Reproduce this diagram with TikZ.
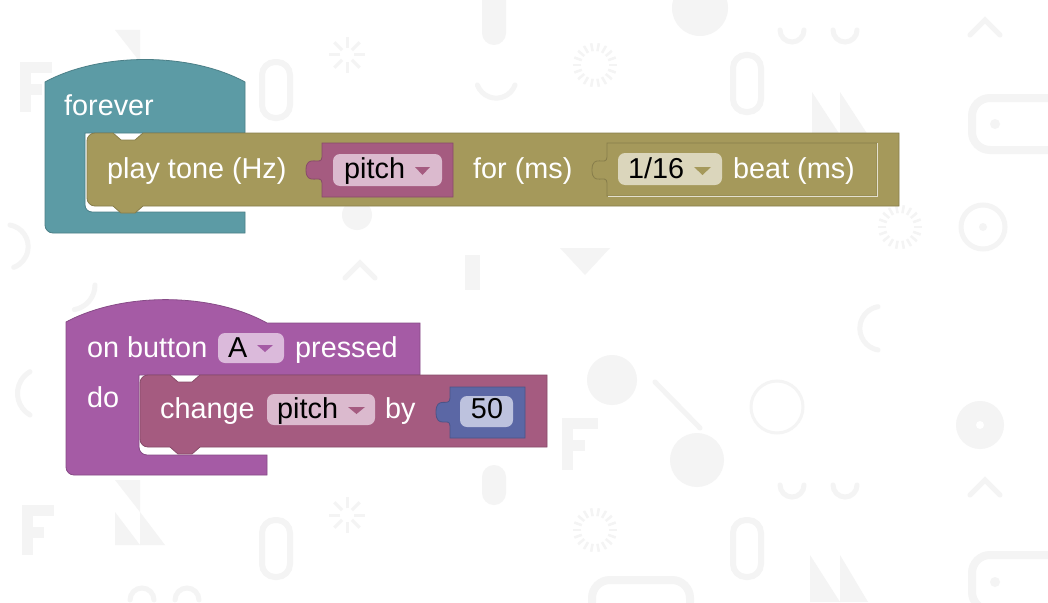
\documentclass[tikz,border=0pt]{standalone}
\usepackage{fontspec}
\setmainfont{Liberation Sans}
\definecolor{tealB}{HTML}{5C9BA5}
\definecolor{oliveB}{HTML}{A5995B}
\definecolor{purpB}{HTML}{A55BA5}
\definecolor{varB}{HTML}{A55B80}
\definecolor{mathB}{HTML}{5B67A5}
\definecolor{varF}{HTML}{DBBACE}
\definecolor{purpF}{HTML}{DBBADB}
\definecolor{oliveF}{HTML}{DBD6BC}
\definecolor{mathF}{HTML}{BDC2DE}
\definecolor{deco}{HTML}{F4F4F4}
\begin{document}
\begin{tikzpicture}[x=1pt,y=-1pt,
 wt/.style={text=white, font=\fontsize{28.8}{30}\selectfont, anchor=base west, inner sep=0pt},
 bt/.style={text=black, font=\fontsize{28.8}{30}\selectfont, anchor=base west, inner sep=0pt},
 dec/.style={fill=deco},
 decl/.style={draw=deco, line width=5pt, line cap=round},
 blk/.style={fill=#1, draw=#1!82!black, line width=0.8pt},
]
\useasboundingbox (0,0) rectangle (1048,602);
\fill[white] (0,0) rectangle (1048,602);

% ---------- faint background decorations ----------
\fill[dec, rounded corners=12] (482,-15) rectangle (506,45);
\fill[dec] (700,8) circle[radius=28];
\draw[decl] (970,35) -- (985,20) -- (1000,35);
\draw[decl] (345,278) -- (360,263) -- (375,278);
\draw[decl] (970,495) -- (985,480) -- (1000,495);
\fill[dec] (115,30) -- (140,30) -- (140,62) -- cycle;
\fill[dec] (140,62) -- (165,95) -- (140,95) -- cycle;
\fill[dec] (115,62) -- (140,95) -- (115,95) -- cycle;
\fill[dec] (115,480) -- (140,480) -- (140,512) -- cycle;
\fill[dec] (140,512) -- (165,545) -- (140,545) -- cycle;
\fill[dec] (115,512) -- (140,545) -- (115,545) -- cycle;
\fill[dec] (560,248) -- (610,248) -- (585,275) -- cycle;
\fill[dec] (810,555) -- (840,602) -- (810,602) -- cycle;
\fill[dec] (840,555) -- (868,602) -- (840,602) -- cycle;
\fill[dec] (812,92) -- (840,135) -- (812,135) -- cycle;
\fill[dec] (840,92) -- (868,135) -- (840,135) -- cycle;
\fill[dec] (20,62) rectangle (31,112);
\fill[dec] (20,62) rectangle (52,73);
\fill[dec] (20,84) rectangle (42,95);
\fill[dec] (22,505) rectangle (33,555);
\fill[dec] (22,505) rectangle (54,516);
\fill[dec] (22,527) rectangle (44,538);
\fill[dec] (562,418) rectangle (573,470);
\fill[dec] (562,418) rectangle (598,429);
\fill[dec] (562,440) rectangle (585,451);
\foreach \a in {0,45,...,315}{
  \draw[draw=deco, line width=3pt] (347,55) ++(\a:7) -- ++(\a:11);
  \draw[draw=deco, line width=3pt] (347,515) ++(\a:7) -- ++(\a:11);
}
\foreach \a in {0,20,...,340}{
  \draw[draw=deco, line width=2.5pt] (595,65) ++(\a:14) -- ++(\a:8);
  \draw[draw=deco, line width=2.5pt] (595,530) ++(\a:14) -- ++(\a:8);
  \draw[draw=deco, line width=2.5pt] (900,227) ++(\a:14) -- ++(\a:8);
}
\draw[decl] (780,30) arc[start angle=180,end angle=0,radius=12];
\draw[decl] (833,30) arc[start angle=180,end angle=0,radius=12];
\draw[decl] (780,485) arc[start angle=180,end angle=0,radius=12];
\draw[decl] (833,485) arc[start angle=180,end angle=0,radius=12];
\draw[decl] (130,600) arc[start angle=180,end angle=360,radius=12];
\draw[decl] (175,600) arc[start angle=180,end angle=360,radius=12];
\draw[draw=deco, line width=6pt, rounded corners=13] (262,62) rectangle (290,118);
\draw[draw=deco, line width=6pt, rounded corners=13] (733,55) rectangle (761,112);
\draw[draw=deco, line width=6pt, rounded corners=13] (262,520) rectangle (290,577);
\draw[draw=deco, line width=6pt, rounded corners=13] (733,520) rectangle (761,577);
\draw[draw=deco, line width=8pt, rounded corners=18] (972,98) rectangle (1070,150);
\fill[dec] (995,124) circle[radius=5];
\draw[draw=deco, line width=8pt, rounded corners=18] (972,555) rectangle (1070,610);
\fill[dec] (995,582) circle[radius=5];
\draw[draw=deco, line width=8pt, rounded corners=18] (592,580) rectangle (690,625);
\draw[draw=deco, line width=5pt] (983,227) circle[radius=22];
\fill[dec] (983,227) circle[radius=4];
\fill[dec] (612,380) circle[radius=25];
\draw[decl] (655,382) -- (700,428);
\draw[draw=deco, line width=3pt] (777,407) circle[radius=26];
\fill[dec] (697,460) circle[radius=27];
\fill[dec] (980,425) circle[radius=24];
\fill[white] (980,425) circle[radius=4];
\fill[dec, rounded corners=12] (482,465) rectangle (506,505);
\draw[decl] (878,350) arc[start angle=-80,end angle=80,radius=-22];
\draw[decl] (515,85) arc[start angle=200,end angle=340,radius=-20];
\draw[decl] (30,415) arc[start angle=-60,end angle=60,radius=-25];
\draw[decl] (95,285) arc[start angle=180,end angle=260,radius=-25];
\draw[decl] (10,225) arc[start angle=100,end angle=250,radius=-22];
\fill[dec] (357,215) circle[radius=15];
\fill[dec] (465,255) rectangle (480,290);

% ---------- forever block ----------
\path[blk=tealB] (45,82) .. controls (100,52) and (190,52) .. (245,82)
  -- (245,133) -- (85,133) -- (85,205)
  arc[start angle=180,end angle=90,radius=7] -- (245,212) -- (245,233)
  -- (53,233) arc[start angle=90,end angle=180,radius=8] -- cycle;
\node[wt] (forever) at (64,115) {forever};

% ---------- play tone block ----------
\path[blk=oliveB] (87,141) arc[start angle=180,end angle=270,radius=8]
  -- (113,133) -- (121,140) -- (135,140) -- (143,133) -- (899,133)
  -- (899,206) -- (143,206) -- (135,213) -- (121,213) -- (113,206)
  -- (95,206) arc[start angle=90,end angle=180,radius=8] -- cycle;
\node[wt] (playtone) at (107,178) {play tone (Hz)};

% pitch reporter
\path[blk=varB] (322,143) -- (453,143) -- (453,197) -- (322,197) -- (322,183)
  .. controls (322,173) and (306,187) .. (306,170)
  .. controls (306,153) and (322,167) .. (322,157) -- cycle;
\fill[varF, rounded corners=7] (333,154) rectangle (442,186);
\node[bt] (pitch1) at (344,178) {pitch};
\fill[varB] (415,167) -- (430,167) -- (422.5,175) -- cycle;

\node[wt] (forms) at (473,178) {for (ms)};

% beat reporter
\path[blk=oliveB] (607,143) -- (877,143) -- (877,196) -- (607,196) -- (607,183)
  .. controls (607,173) and (592,187) .. (592,170)
  .. controls (592,153) and (607,167) .. (607,157) -- cycle;
\draw[white!70!oliveB, line width=1pt] (608,196) -- (877,196) -- (877,143);
\fill[oliveF, rounded corners=7] (618,153) rectangle (722,185);
\node[bt] (beatval) at (628,178) {1/16};
\fill[oliveB] (694,167) -- (711,167) -- (702.5,175) -- cycle;
\node[wt] (beat) at (733,178) {beat (ms)};

% ---------- on button block ----------
\path[blk=purpB] (66,322) .. controls (122,292) and (211,292) .. (267,323)
  -- (420,323) -- (420,375) -- (139,375) -- (139,447)
  arc[start angle=180,end angle=90,radius=8] -- (267,455) -- (267,475)
  -- (74,475) arc[start angle=90,end angle=180,radius=8] -- cycle;
\fill[purpF, rounded corners=7] (218,333) rectangle (284,363);
\node[wt] (onbutton) at (87,357) {on button};
\node[bt] (btnA) at (228,357) {A};
\fill[purpB] (257,345) -- (273,345) -- (265,352) -- cycle;
\node[wt] (pressed) at (295,357) {pressed};
\node[wt] (do) at (87,407) {do};

% ---------- change block ----------
\path[blk=varB] (140,383) arc[start angle=180,end angle=270,radius=8]
  -- (170,375) -- (178,382) -- (192,382) -- (200,375) -- (547,375)
  -- (547,447) -- (200,447) -- (192,454) -- (178,454) -- (170,447)
  -- (148,447) arc[start angle=90,end angle=180,radius=8] -- cycle;
\node[wt] (change) at (160,418) {change};
\fill[varF, rounded corners=7] (267,394) rectangle (375,425);
\node[bt] (pitch2) at (277,418) {pitch};
\fill[varB] (348,407) -- (365,407) -- (356.5,414) -- cycle;
\node[wt] (by) at (385,418) {by};

% number block
\path[blk=mathB] (450,387) -- (525,387) -- (525,438) -- (450,438) -- (450,426)
  .. controls (450,416) and (436,430) .. (436,412)
  .. controls (436,395) and (450,408) .. (450,398) -- cycle;
\fill[mathF, rounded corners=7] (460,396) rectangle (513,427);
\node[bt, anchor=base] (num) at (487,418) {50};
\end{tikzpicture}
\end{document}
